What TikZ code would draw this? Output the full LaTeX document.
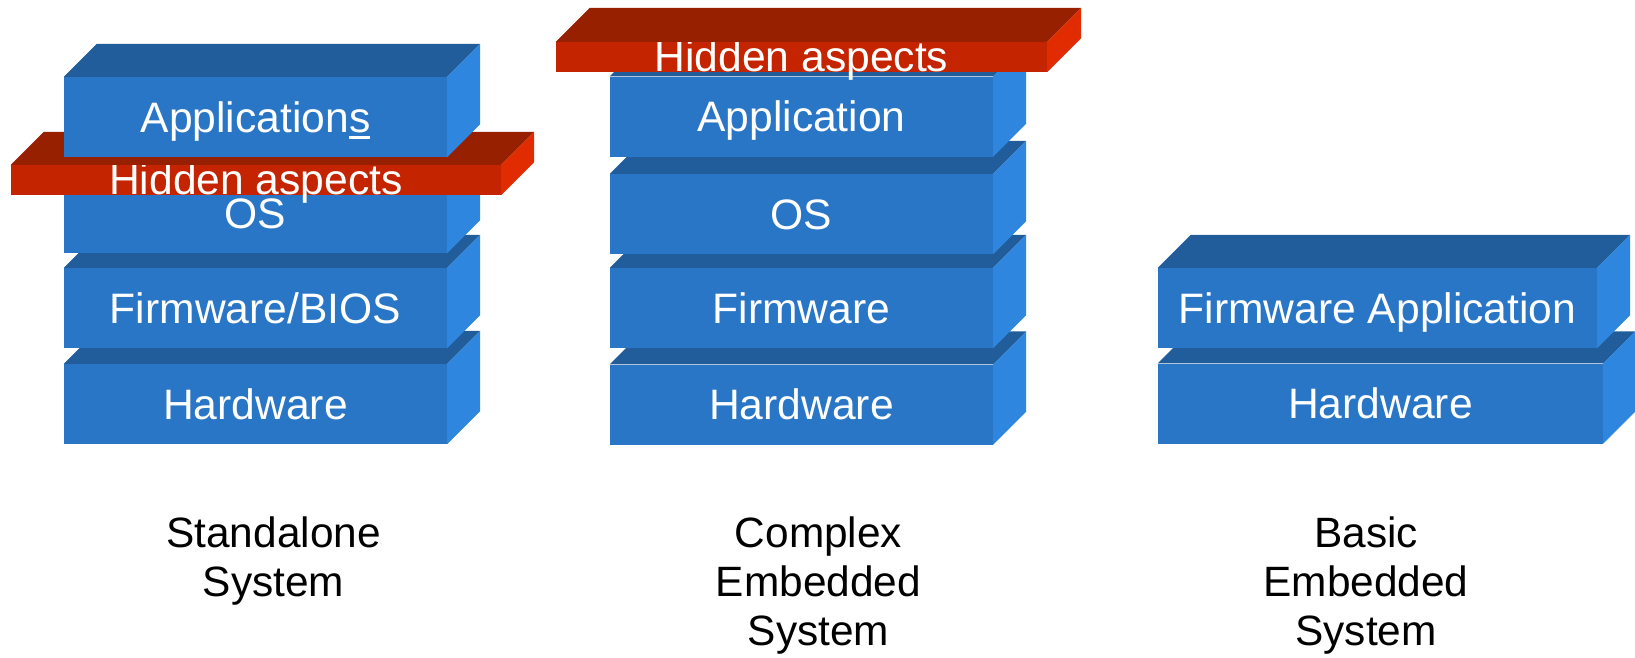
\documentclass[tikz,border=0pt]{standalone}
\usepackage{fontspec}
\setmainfont{Liberation Sans}
\definecolor{bfront}{RGB}{42,118,198}
\definecolor{btop}{RGB}{33,93,155}
\definecolor{bside}{RGB}{46,134,222}
\definecolor{rfront}{RGB}{196,36,0}
\definecolor{rtop}{RGB}{150,32,0}
\definecolor{rside}{RGB}{224,44,0}
\newcommand\myul[1]{\setbox0\hbox{#1}\rlap{\rule[-7pt]{\wd0}{2.6pt}}\box0}
\newcommand\boxfaces[4]{%
  \fill[#3] (#1.north west) -- ++(#2,-#2) -- ([shift={(#2,-#2)}]#1.north east) -- (#1.north east) -- cycle;
  \fill[#4] (#1.north east) -- ++(#2,-#2) -- ([shift={(#2,-#2)}]#1.south east) -- (#1.south east) -- cycle;
}
\tikzset{
  layer/.style={fill=bfront, text=white, inner sep=0pt, minimum height=80pt,
    font=\fontsize{42.6}{50}\selectfont, text height=30pt, text depth=0pt},
  band/.style={fill=rfront, text=white, inner sep=0pt, minimum height=30pt,
    font=\fontsize{42.6}{50}\selectfont, text height=28pt, text depth=0pt},
  caption/.style={align=center, inner sep=0pt, text=black,
    font=\fontsize{42.4}{49}\selectfont}
}
\begin{document}
\begin{tikzpicture}[x=1pt,y=-1pt]
\fill[white] (0,0) rectangle (1635,657);
\useasboundingbox (0,0) rectangle (1635,657);
% Standalone
\node[layer, minimum width=383pt] (shw) at (255.5,404) {Hardware};
\boxfaces{shw}{33}{btop}{bside}
\node[layer, minimum width=383pt] (sfw) at (255.5,308) {Firmware/BIOS};
\boxfaces{sfw}{33}{btop}{bside}
\node[layer, minimum width=383pt] (sos) at (255.5,213) {OS};
\boxfaces{sos}{33}{btop}{bside}
\node[band, minimum width=490pt] (sband) at (256,180) {Hidden aspects};
\boxfaces{sband}{33}{rtop}{rside}
\node[layer, minimum width=383pt] (sapp) at (255.5,117) {Application\myul{s}};
\boxfaces{sapp}{33}{btop}{bside}
% Complex
\node[layer, minimum width=383pt] (chw) at (801.5,404.5) {Hardware};
\boxfaces{chw}{33}{btop}{bside}
\node[layer, minimum width=383pt] (cfw) at (801.5,308) {Firmware};
\boxfaces{cfw}{33}{btop}{bside}
\node[layer, minimum width=383pt] (cos) at (801.5,214) {OS};
\boxfaces{cos}{33}{btop}{bside}
\node[layer, minimum width=383pt] (capp) at (801.5,116.5) {Application};
\boxfaces{capp}{33}{btop}{bside}
\node[band, minimum width=491pt] (cband) at (801.5,57) {Hidden aspects};
\boxfaces{cband}{34}{rtop}{rside}
% Basic
\node[layer, minimum width=445pt] (bhw) at (1380.5,403.5) {Hardware};
\boxfaces{bhw}{32}{btop}{bside}
\node[layer, minimum width=439pt] (bfa) at (1377.5,308) {Firmware Application};
\boxfaces{bfa}{33}{btop}{bside}
% Captions
\node[caption, anchor=base] (capS) at (273.5,596) {Standalone\\System};
\node[caption, anchor=base] (capC) at (818.5,645) {Complex\\Embedded\\System};
\node[caption, anchor=base] (capB) at (1366,645) {Basic\\Embedded\\System};
\end{tikzpicture}
\end{document}
